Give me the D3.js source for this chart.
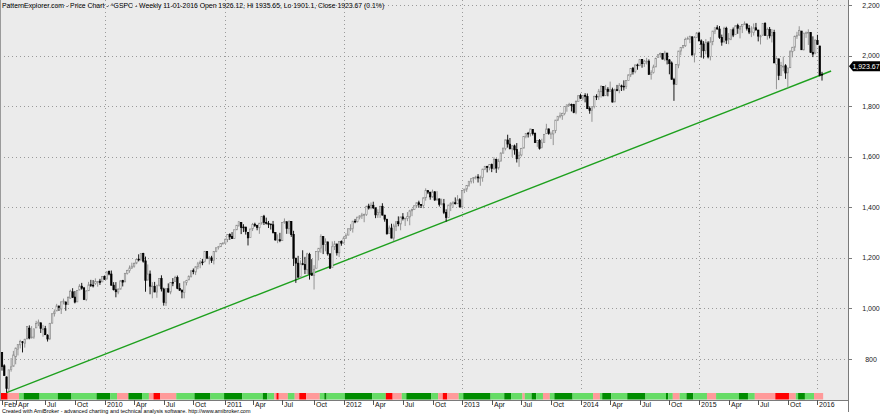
<!DOCTYPE html>
<html><head><meta charset="utf-8">
<script src="https://cdn.jsdelivr.net/npm/d3@7"></script>
<style>body{margin:0;background:#fff}svg{display:block;font-family:"Liberation Sans",Arial,sans-serif}</style>
</head><body><svg id="c" width="880" height="415"></svg>
<script>
// weekly bars [open, high, low, close]; first bar = week ending Fri 20-02-2009
const firstWeek = "2009-02-20";
const bars2009 = [[826,827,754,770],[773,779,734,735],[729,731,667,683],[684,758,672,757],[758,804,750,769],[771,832,771,816],[809,845,779,843],[839,856,814,857],[856,876,842,870],[868,871,826,866],[862,880,845,878],[880,930,878,929],[922,933,878,883],[887,930,881,887],[887,920,880,919],[923,951,923,940],[940,956,930,946],[943,944,903,921],[918,935,888,919],[920,931,896,896],[894,898,869,879],[880,943,875,940],[942,980,940,979],[979,996,968,987],[990,1018,990,1010],[1008,1013,990,1004],[998,1027,978,1026],[1026,1039,1016,1029],[1025,1028,991,1016],[1016,1048,1016,1043],[1041,1074,1038,1068],[1066,1080,1041,1044],[1045,1069,1020,1025],[1026,1072,1025,1071],[1073,1096,1072,1088],[1088,1101,1074,1080],[1081,1085,1033,1036],[1036,1072,1029,1069],[1070,1105,1070,1093],[1094,1113,1085,1091],[1092,1112,1083,1091],[1099,1119,1093,1106],[1104,1108,1086,1106],[1108,1117,1093,1102],[1105,1127,1105,1126],[1127,1130,1114,1115]];
const bars2010 = [[1116,1145,1116,1145],[1146,1150,1131,1136],[1136,1150,1090,1092],[1092,1104,1071,1074],[1074,1104,1044,1066],[1065,1080,1056,1076],[1076,1112,1076,1109],[1110,1113,1087,1104],[1105,1139,1105,1139],[1139,1153,1134,1150],[1150,1170,1141,1160],[1160,1181,1156,1167],[1167,1182,1161,1178],[1179,1195,1175,1194],[1195,1214,1186,1192],[1193,1218,1188,1217],[1217,1220,1181,1187],[1188,1205,1066,1111],[1112,1174,1111,1136],[1136,1150,1056,1088],[1087,1104,1040,1089],[1087,1105,1064,1065],[1065,1092,1042,1092],[1092,1120,1087,1118],[1118,1131,1067,1077],[1077,1082,1011,1023],[1022,1079,1010,1078],[1078,1099,1062,1065],[1065,1104,1056,1103],[1103,1120,1088,1102],[1107,1129,1107,1122],[1122,1130,1076,1079],[1079,1100,1070,1072],[1073,1073,1040,1065],[1063,1105,1040,1105],[1103,1113,1091,1110],[1113,1131,1112,1126],[1126,1149,1122,1149],[1149,1158,1135,1146],[1144,1167,1132,1165],[1165,1184,1155,1176],[1177,1190,1159,1183],[1184,1196,1171,1183],[1185,1227,1182,1226],[1225,1227,1195,1199],[1200,1207,1174,1200],[1200,1208,1180,1189],[1189,1226,1174,1225],[1225,1240,1222,1240],[1241,1247,1233,1244],[1244,1257,1243,1257],[1257,1262,1254,1258]];
const bars2011 = [[1258,1277,1257,1272],[1272,1294,1262,1293],[1293,1297,1271,1283],[1284,1302,1275,1276],[1277,1311,1275,1311],[1311,1330,1310,1329],[1329,1344,1323,1343],[1340,1340,1294,1320],[1322,1333,1302,1321],[1322,1322,1292,1304],[1301,1301,1249,1279],[1281,1315,1281,1314],[1315,1338,1306,1332],[1333,1339,1322,1328],[1329,1329,1309,1320],[1319,1338,1295,1337],[1338,1364,1331,1364],[1365,1370,1330,1340],[1340,1359,1332,1338],[1336,1346,1318,1333],[1334,1334,1312,1331],[1331,1346,1296,1300],[1300,1300,1268,1271],[1272,1293,1258,1272],[1272,1299,1262,1268],[1268,1341,1267,1340],[1340,1356,1335,1344],[1343,1343,1295,1316],[1315,1347,1295,1345],[1344,1345,1283,1292],[1293,1307,1168,1199],[1199,1199,1101,1179],[1179,1208,1121,1124],[1124,1190,1122,1177],[1177,1230,1171,1174],[1174,1204,1136,1154],[1153,1220,1136,1216],[1214,1220,1114,1136],[1137,1195,1131,1131],[1131,1171,1075,1155],[1159,1224,1159,1225],[1224,1239,1190,1238],[1239,1293,1220,1285],[1284,1284,1215,1253],[1253,1277,1226,1264],[1263,1264,1209,1216],[1216,1216,1158,1159],[1162,1265,1162,1244],[1244,1267,1231,1255],[1255,1255,1209,1220],[1220,1266,1203,1265],[1265,1269,1248,1258]];
const bars2012 = [[1258,1285,1258,1278],[1278,1297,1275,1289],[1290,1316,1290,1315],[1315,1333,1306,1316],[1316,1346,1300,1345],[1345,1354,1337,1343],[1343,1362,1340,1361],[1361,1368,1352,1366],[1366,1378,1354,1370],[1370,1375,1341,1371],[1371,1406,1366,1404],[1405,1414,1391,1397],[1398,1419,1392,1408],[1408,1422,1393,1398],[1398,1398,1357,1370],[1370,1392,1358,1379],[1379,1406,1358,1403],[1404,1416,1368,1369],[1369,1370,1343,1353],[1352,1355,1292,1295],[1296,1328,1296,1318],[1318,1335,1278,1278],[1278,1335,1266,1326],[1325,1343,1306,1343],[1343,1364,1325,1335],[1334,1362,1309,1362],[1362,1377,1348,1355],[1355,1357,1326,1357],[1356,1381,1345,1363],[1362,1390,1329,1386],[1386,1395,1365,1391],[1391,1407,1390,1406],[1406,1419,1397,1418],[1418,1426,1398,1411],[1411,1413,1397,1407],[1407,1438,1396,1438],[1438,1475,1426,1466],[1466,1466,1452,1460],[1460,1460,1430,1441],[1441,1470,1438,1461],[1461,1464,1425,1429],[1429,1464,1426,1433],[1433,1435,1403,1412],[1412,1434,1408,1414],[1414,1433,1373,1380],[1380,1392,1343,1360],[1360,1409,1360,1409],[1409,1420,1385,1416],[1416,1424,1398,1418],[1418,1439,1411,1414],[1414,1448,1414,1430],[1430,1436,1398,1402]];
const bars2013 = [[1402,1468,1398,1466],[1466,1472,1456,1472],[1472,1486,1461,1486],[1486,1503,1481,1503],[1503,1514,1494,1513],[1513,1518,1495,1518],[1518,1525,1510,1520],[1520,1531,1498,1516],[1516,1525,1485,1518],[1518,1552,1501,1551],[1551,1564,1547,1561],[1561,1564,1538,1557],[1557,1570,1546,1569],[1569,1573,1539,1553],[1553,1598,1548,1589],[1589,1593,1536,1555],[1556,1592,1549,1582],[1583,1618,1581,1614],[1614,1635,1614,1634],[1633,1667,1625,1667],[1666,1687,1636,1650],[1650,1674,1630,1631],[1631,1646,1599,1643],[1643,1648,1608,1627],[1628,1654,1577,1592],[1592,1620,1560,1606],[1607,1635,1601,1632],[1634,1680,1634,1680],[1680,1693,1673,1692],[1693,1698,1676,1692],[1692,1710,1680,1710],[1708,1709,1684,1691],[1692,1696,1654,1656],[1656,1664,1639,1664],[1664,1670,1628,1633],[1636,1671,1633,1655],[1656,1690,1656,1688],[1691,1730,1691,1710],[1710,1711,1687,1692],[1691,1699,1670,1691],[1690,1703,1646,1703],[1703,1745,1693,1745],[1745,1760,1741,1760],[1760,1775,1752,1762],[1762,1774,1746,1771],[1771,1798,1764,1798],[1798,1806,1778,1805],[1803,1813,1800,1806],[1806,1810,1779,1805],[1806,1809,1772,1775],[1776,1823,1768,1818],[1819,1844,1819,1841]];
const bars2014 = [[1842,1849,1828,1831],[1832,1843,1823,1842],[1842,1851,1815,1839],[1838,1850,1790,1790],[1791,1799,1770,1783],[1783,1798,1738,1797],[1798,1841,1791,1839],[1839,1847,1824,1836],[1837,1868,1825,1859],[1857,1883,1834,1878],[1878,1878,1839,1841],[1842,1884,1840,1867],[1867,1875,1839,1858],[1858,1897,1858,1865],[1865,1873,1815,1816],[1817,1869,1815,1865],[1865,1884,1859,1863],[1863,1891,1851,1881],[1880,1885,1860,1878],[1879,1902,1862,1878],[1878,1901,1868,1901],[1902,1925,1902,1924],[1924,1950,1915,1949],[1950,1955,1925,1936],[1937,1964,1930,1963],[1963,1968,1944,1961],[1961,1985,1958,1985],[1985,1986,1952,1968],[1968,1983,1955,1978],[1976,1991,1965,1978],[1978,1985,1925,1925],[1926,1942,1905,1932],[1933,1964,1929,1955],[1955,1992,1955,1988],[1992,2006,1991,2003],[2004,2012,1992,2008],[2008,2008,1985,1986],[1986,2019,1978,2010],[2010,2010,1965,1983],[1983,1986,1926,1968],[1971,1977,1906,1906],[1905,1912,1821,1887],[1886,1965,1886,1965],[1962,2018,1950,2018],[2018,2034,2001,2032],[2032,2041,2028,2040],[2039,2071,2034,2064],[2065,2075,2064,2068],[2065,2079,2049,2075],[2074,2076,2002,2002],[2005,2077,1973,2071],[2071,2093,2069,2089]];
const bars2015 = [[2088,2094,2057,2058],[2058,2064,1992,2045],[2046,2057,1988,2019],[2020,2065,2005,2052],[2050,2057,1989,1995],[1996,2073,1981,2055],[2055,2097,2041,2097],[2097,2110,2085,2110],[2110,2120,2103,2105],[2105,2117,2066,2071],[2072,2083,2039,2053],[2055,2114,2049,2108],[2108,2114,2046,2061],[2064,2089,2045,2067],[2064,2102,2061,2102],[2102,2111,2073,2081],[2083,2120,2083,2118],[2119,2126,2086,2108],[2105,2117,2068,2116],[2116,2123,2089,2123],[2122,2135,2122,2126],[2125,2126,2099,2107],[2108,2121,2085,2093],[2092,2116,2073,2094],[2091,2127,2079,2110],[2110,2129,2100,2101],[2101,2101,2056,2077],[2075,2082,2044,2077],[2080,2127,2080,2127],[2127,2132,2079,2080],[2079,2111,2063,2104],[2104,2113,2068,2078],[2078,2105,2052,2092],[2091,2102,1971,1971],[1965,1993,1867,1989],[1987,1987,1903,1921],[1921,1975,1921,1961],[1958,1996,1938,1958],[1960,1966,1908,1931],[1932,1951,1872,1951],[1952,2021,1952,2015],[2015,2034,1993,2033],[2033,2079,2018,2075],[2076,2094,2066,2079],[2081,2116,2080,2099],[2097,2097,2022,2023],[2023,2089,2020,2089],[2089,2095,2070,2090],[2090,2104,2042,2092],[2091,2093,2012,2012],[2013,2076,1994,2006],[2010,2064,2005,2061],[2060,2082,2043,2044]];
const bars2016 = [[2038,2038,1918,1922],[1926.12,1935.65,1901.1,1923.67]];

// trend line anchors [bar index, price]
const trendIdx = [2, 364];
const trendVal = [666.8, 1939];

// bottom state band: [state, number of bars]; 0 red, 1 pink, 2 light green, 3 dark green
const bandRuns = [[0,3],[1,5],[2,2],[3,7],[2,8],[3,6],[2,11],[3,6],[2,3],[1,5],[3,6],[2,3],[1,2],[0,3],[1,7],[2,8],[3,7],[2,6],[3,8],[2,9],[3,2],[2,3],[1,1],[0,1],[1,4],[2,3],[1,2],[0,3],[1,6],[2,2],[3,1],[2,8],[3,12],[2,6],[0,3],[1,4],[2,2],[3,11],[2,3],[1,2],[0,2],[1,5],[2,2],[3,12],[2,6],[3,3],[2,5],[1,1],[2,3],[3,2],[2,3],[1,3],[2,2],[3,8],[2,9],[1,3],[2,1],[3,4],[2,7],[3,8],[2,9],[3,1],[2,2],[1,3],[2,3],[3,3],[2,6],[1,4],[2,10],[3,4],[2,3],[1,9],[0,6],[1,3],[2,1],[3,3],[2,4],[1,4]];
const bandColors = ["#ff0000","#ff9a9a","#66dc66","#008c00"];

const yTicks = [800,1000,1200,1400,1600,1800,2000,2200];
const monthLabels = ["Jan","Feb","Mar","Apr","May","Jun","Jul","Aug","Sep","Oct","Nov","Dec"];
const titleText = "PatternExplorer.com - Price Chart - ^GSPC - Weekly 11-01-2016 Open 1926.12, Hi 1935.65, Lo 1901.1, Close 1923.67 (0.1%)";
const footerText = "Created with AmiBroker - advanced charting and technical analysis software. http://www.amibroker.com";
const lastLabel = "1,923.67";

const bars = [].concat(bars2009,bars2010,bars2011,bars2012,bars2013,bars2014,bars2015,bars2016)
  .map((b,i)=>({i,o:b[0],h:b[1],l:b[2],c:b[3]}));
const t0 = d3.timeParse("%Y-%m-%d")(firstWeek);
bars.forEach(b=>{ b.date = d3.timeDay.offset(t0, 7*b.i); });

const svg = d3.select("#c");
const PW = 848, PH = 400;
const x = d3.scaleLinear().domain([0, bars.length-1]).range([2, 822]);
const y = d3.scaleLinear().domain([800, 2200]).range([359, 5]);

svg.append("rect").attr("x",0).attr("y",0).attr("width",880).attr("height",415).attr("fill","#fff");
svg.append("rect").attr("x",0).attr("y",0).attr("width",PW).attr("height",PH).attr("fill","#ebebeb");

// x tick positions
const xt = [];
bars.forEach((b,k)=>{
  const m = b.date.getMonth();
  if (k===0) { xt.push({i:k, label: monthLabels[m]}); return; }
  const pm = bars[k-1].date.getMonth();
  if (m!==pm && m%3===0) xt.push({i:k, label: m===0 ? String(b.date.getFullYear()) : monthLabels[m]});
});

// grid
const grid = svg.append("g").attr("stroke","#9a9a9a").attr("stroke-dasharray","1,3").attr("stroke-width",1);
yTicks.forEach(v=>grid.append("line").attr("x1",0).attr("x2",PW).attr("y1",Math.round(y(v))+0.5).attr("y2",Math.round(y(v))+0.5));
xt.filter(d=>/^\d{4}$/.test(d.label)).forEach(d=>grid.append("line").attr("x1",Math.round(x(d.i))+0.5).attr("x2",Math.round(x(d.i))+0.5).attr("y1",0).attr("y2",392));

// trend line
svg.append("line").attr("x1",x(trendIdx[0])).attr("y1",y(trendVal[0])).attr("x2",x(trendIdx[1])).attr("y2",y(trendVal[1]))
  .attr("stroke","#1ea01e").attr("stroke-width",1.4);

// candles
const bw = 1.4;
const cg = svg.append("g");
bars.forEach(b=>{
  const up = b.c >= b.o;
  const cx = x(b.i);
  const col = up ? "#8a8a8a" : "#000";
  cg.append("line").attr("x1",cx).attr("x2",cx).attr("y1",y(b.h)).attr("y2",y(b.l)).attr("stroke",col).attr("stroke-width",0.9);
  const top = y(Math.max(b.o,b.c)), bot = y(Math.min(b.o,b.c));
  cg.append("rect").attr("x",cx-bw/2).attr("y",top).attr("width",bw).attr("height",Math.max(0.8,bot-top))
    .attr("fill", up ? "#fff" : "#000").attr("stroke", col).attr("stroke-width",0.7);
});

// band
let pos = 0;
bandRuns.forEach(r=>{
  svg.append("rect").attr("x",x(pos-0.5)).attr("y",393).attr("width",x(pos+r[1]-0.5)-x(pos-0.5)).attr("height",6.5).attr("fill",bandColors[r[0]]);
  pos += r[1];
});

// axes
svg.append("line").attr("x1",PW+0.5).attr("x2",PW+0.5).attr("y1",0).attr("y2",412).attr("stroke","#7a7a7a");
svg.append("line").attr("x1",0).attr("x2",PW).attr("y1",PH+0.5).attr("y2",PH+0.5).attr("stroke","#7a7a7a");
svg.append("line").attr("x1",0.5).attr("x2",0.5).attr("y1",0).attr("y2",PH).attr("stroke","#9a9a9a");

const ya = svg.append("g");
yTicks.forEach(v=>{
  ya.append("line").attr("x1",PW).attr("x2",PW+4).attr("y1",Math.round(y(v))+0.5).attr("y2",Math.round(y(v))+0.5).attr("stroke","#7a7a7a");
  ya.append("text").attr("x",871).attr("y",y(v)+2.5).attr("text-anchor","middle").attr("font-size",7).attr("fill","#222").text(d3.format(",")(v));
});

const xa = svg.append("g");
xt.forEach(d=>{
  const px = Math.round(x(d.i))+0.5;
  xa.append("line").attr("x1",px).attr("x2",px).attr("y1",PH).attr("y2",PH+5).attr("stroke","#555");
  xa.append("text").attr("x",px+1.5).attr("y",PH+7).attr("font-size",7).attr("fill","#111").text(d.label);
});

// last price label (drawn slightly above the close, as in the reference)
const ly = y(bars[bars.length-1].c) - 8.5;
svg.append("path").attr("d",`M${PW+1},${ly} L${PW+5},${ly-5} L880,${ly-5} L880,${ly+5} L${PW+5},${ly+5} Z`).attr("fill","#000");
svg.append("text").attr("x",866).attr("y",ly+2.5).attr("text-anchor","middle").attr("font-size",7).attr("fill","#fff").text(lastLabel);

// title and footer
svg.append("text").attr("x",2).attr("y",8).attr("font-size",6.85).attr("fill","#000").text(titleText);
svg.append("text").attr("x",2).attr("y",413).attr("font-size",5.45).attr("fill","#000").text(footerText);
</script></body></html>
